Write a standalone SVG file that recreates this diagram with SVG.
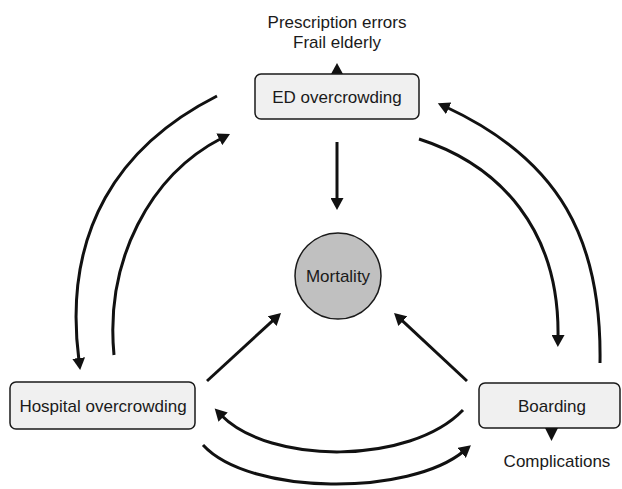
<svg xmlns="http://www.w3.org/2000/svg" width="622" height="489" viewBox="0 0 622 489">
<defs>
<style>
.box{fill:#f0f0f0;stroke:#1a1a1a;stroke-width:1.5}
.t{font-family:"Liberation Sans",Arial,sans-serif;font-size:17px;fill:#1a1a1a;text-anchor:middle}
.c{fill:none;stroke:#111;stroke-width:3}
.tri{fill:#111}
</style>
<marker id="ah" markerUnits="userSpaceOnUse" markerWidth="13" markerHeight="13" refX="3" refY="6.5" orient="auto">
<path d="M0,0 L12,6.5 L0,13 Z" fill="#111"/>
</marker>
</defs>
<rect width="622" height="489" fill="#fff"/>
<g id="connectors">
<path class="c" d="M217,96 C120,145 62,230 79,361" marker-end="url(#ah)"/>
<path class="c" d="M114,355 C105,260 150,175 222,138" marker-end="url(#ah)"/>
<path class="c" d="M600,363 C602,240 560,160 446,107" marker-end="url(#ah)"/>
<path class="c" d="M419,139 C500,165 560,230 558,338" marker-end="url(#ah)"/>
<path class="c" d="M337,142 L337,201" marker-end="url(#ah)"/>
<path class="c" d="M207,381 L274.4,319.1" marker-end="url(#ah)"/>
<path class="c" d="M467,381 L400.6,319.1" marker-end="url(#ah)"/>
<path class="c" d="M463,410 C410,465 270,465 221,415" marker-end="url(#ah)"/>
<path class="c" d="M203,445 C250,496 410,496 464,451" marker-end="url(#ah)"/>
</g>
<g id="ed">
<path class="tri" d="M331,74 L343,74 L337,63 Z"/>
<rect class="box" x="255" y="74" width="164" height="45" rx="6"/>
<text class="t" x="337" y="103">ED overcrowding</text>
</g>
<g id="ed-notes">
<text class="t" x="337" y="28">Prescription errors</text>
<text class="t" x="337" y="48">Frail elderly</text>
</g>
<g id="mortality">
<circle cx="338" cy="276" r="43" fill="#c0c0c0" stroke="#1a1a1a" stroke-width="1.5"/>
<text class="t" x="338" y="282">Mortality</text>
</g>
<g id="hospital">
<rect class="box" x="10" y="382" width="185" height="47" rx="6"/>
<text class="t" x="103" y="412">Hospital overcrowding</text>
</g>
<g id="boarding">
<rect class="box" x="479" y="383" width="141" height="45" rx="6"/>
<text class="t" x="552" y="412">Boarding</text>
<path class="tri" d="M545,428 L558,428 L551.5,441 Z"/>
</g>
<g id="complications">
<text class="t" x="557" y="467">Complications</text>
</g>
</svg>
